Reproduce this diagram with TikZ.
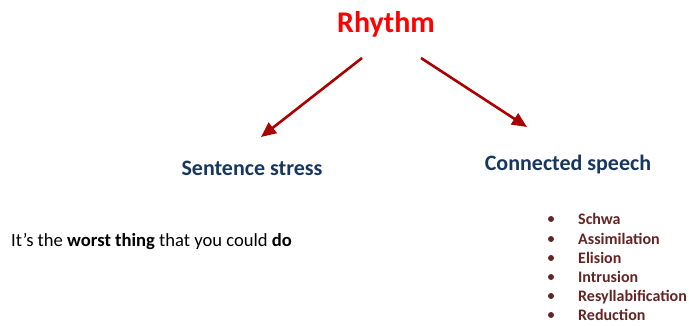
\documentclass[tikz,border=0pt]{standalone}
\usepackage{fontspec}
\setmainfont{Carlito}
\usetikzlibrary{arrows.meta}
\definecolor{rhythmred}{RGB}{255,0,0}
\definecolor{arrowred}{RGB}{170,0,0}
\definecolor{headblue}{RGB}{23,55,94}
\definecolor{itembrown}{RGB}{99,37,35}
\tikzset{
  heading/.style={anchor=base, inner sep=0pt, text=headblue, font=\fontsize{22}{26}\selectfont\bfseries},
  item/.style={anchor=base west, inner sep=0pt, text=itembrown, font=\fontsize{16}{19}\selectfont\bfseries},
  bul/.style={circle, fill=itembrown, inner sep=0pt, minimum size=6pt},
  conn/.style={draw=arrowred, line width=2.6pt, -{Triangle[length=15pt,width=13pt]}}
}
\begin{document}
\begin{tikzpicture}[x=1pt,y=-1pt]
\useasboundingbox (0,0) rectangle (689,325);
\node[anchor=base, inner sep=0pt, text=rhythmred, font=\fontsize{30}{36}\selectfont\bfseries] (rhythm) at (386,32) {Rhythm};
\node[heading] (ss) at (252,175) {Sentence stress};
\node[heading] (cs) at (568,170) {Connected speech};
\coordinate (l1) at (362,58);
\coordinate (l2) at (261,137);
\coordinate (r1) at (421,58);
\coordinate (r2) at (527,127);
\draw[conn] (l1) -- (l2);
\draw[conn] (r1) -- (r2);
\node[anchor=base west, inner sep=0pt, font=\fontsize{18.6}{22}\selectfont] (sent) at (11,246) {It’s the \textbf{worst thing} that you could \textbf{do}};
\foreach \t/\y [count=\i] in {Schwa/224,Assimilation/244,Elision/263,Intrusion/282,Resyllabification/301,Reduction/320}{
  \node[bul] (b\i) at (551,\y-5) {};
  \node[item] (i\i) at (578,\y) {\t};
}
\end{tikzpicture}
\end{document}
